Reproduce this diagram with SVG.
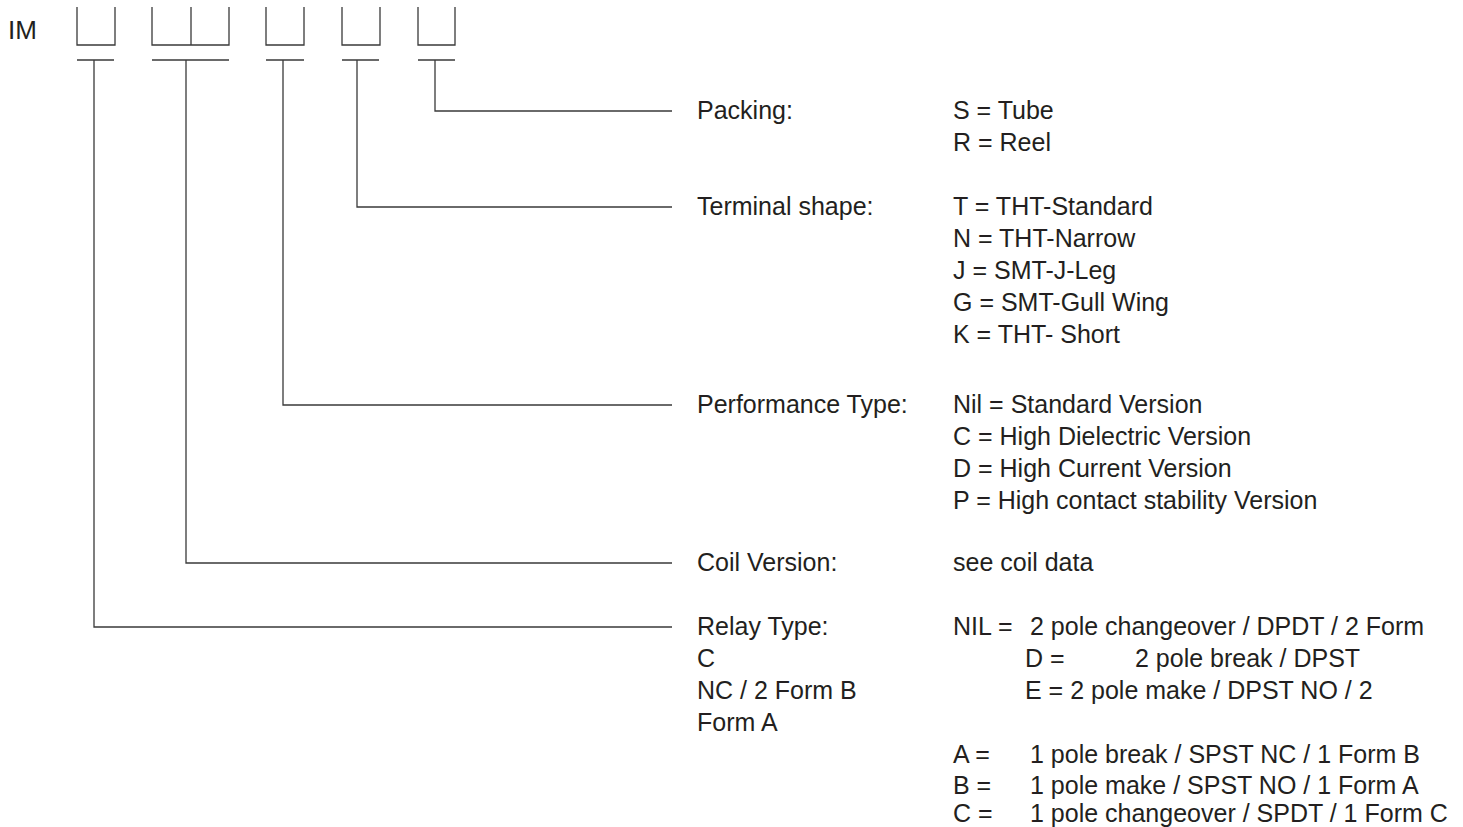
<svg xmlns="http://www.w3.org/2000/svg" width="1463" height="827" viewBox="0 0 1463 827">
<style>
.t{font-family:"Liberation Sans",Arial,Helvetica,sans-serif;font-size:25px;fill:#231f20}
.ln{fill:none;stroke:#3a3a3a;stroke-width:1.3}
</style>
<rect width="1463" height="827" fill="#ffffff"/>
<g id="code">
<text class="t" x="8" y="39" style="font-size:26px">IM</text>
<path class="ln" d="M77,7V45H115V7"/>
<path class="ln" d="M152,7V45H229V7M191,7V45"/>
<path class="ln" d="M266,7V45H304V7"/>
<path class="ln" d="M342,7V45H380V7"/>
<path class="ln" d="M418,7V45H455V7"/>
</g>
<g id="connectors">
<path class="ln" d="M77,60H114M94,60V627H672"/>
<path class="ln" d="M152,60H229M186,60V563H672"/>
<path class="ln" d="M266,60H304M283,60V405H672"/>
<path class="ln" d="M342,60H379M357,60V207H672"/>
<path class="ln" d="M418,60H455M435,60V111H672"/>
</g>
<g id="packing">
<text class="t" x="697" y="119">Packing:</text>
<text class="t" x="953" y="119">S = Tube</text>
<text class="t" x="953" y="151">R = Reel</text>
</g>
<g id="terminal">
<text class="t" x="697" y="215">Terminal shape:</text>
<text class="t" x="953" y="215">T = THT-Standard</text>
<text class="t" x="953" y="247">N = THT-Narrow</text>
<text class="t" x="953" y="279">J = SMT-J-Leg</text>
<text class="t" x="953" y="311">G = SMT-Gull Wing</text>
<text class="t" x="953" y="343">K = THT- Short</text>
</g>
<g id="performance">
<text class="t" x="697" y="413">Performance Type:</text>
<text class="t" x="953" y="413">Nil = Standard Version</text>
<text class="t" x="953" y="445">C = High Dielectric Version</text>
<text class="t" x="953" y="477">D = High Current Version</text>
<text class="t" x="953" y="509">P = High contact stability Version</text>
</g>
<g id="coil">
<text class="t" x="697" y="571">Coil Version:</text>
<text class="t" x="953" y="571">see coil data</text>
</g>
<g id="relay">
<text class="t" x="697" y="635">Relay Type:</text>
<text class="t" x="697" y="667">C</text>
<text class="t" x="697" y="699">NC / 2 Form B</text>
<text class="t" x="697" y="731">Form A</text>
<text class="t" x="953" y="635">NIL =</text>
<text class="t" x="1030" y="635">2 pole changeover / DPDT / 2 Form</text>
<text class="t" x="1025" y="667">D =</text>
<text class="t" x="1135" y="667">2 pole break / DPST</text>
<text class="t" x="1025" y="699">E = 2 pole make / DPST NO / 2</text>
<text class="t" x="953" y="763">A =</text>
<text class="t" x="1030" y="763">1 pole break / SPST NC / 1 Form B</text>
<text class="t" x="953" y="794">B =</text>
<text class="t" x="1030" y="794">1 pole make / SPST NO / 1 Form A</text>
<text class="t" x="953" y="822">C =</text>
<text class="t" x="1030" y="822">1 pole changeover / SPDT / 1 Form C</text>
</g>
</svg>
